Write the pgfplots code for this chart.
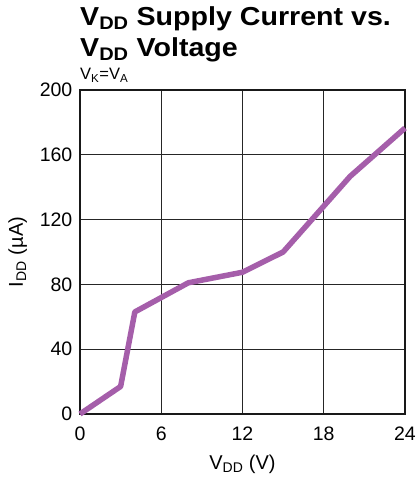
\documentclass[border=0pt]{standalone}
\usepackage{pgfplots}
\pgfplotsset{compat=1.18}
\usepackage{fontspec}
\setmainfont{Liberation Sans}
\newfontfamily\titlefont{Liberation Sans}[FakeStretch=1.1]
\definecolor{curve}{RGB}{165,94,170}
\begin{document}
\begin{tikzpicture}
\begin{axis}[
  scale only axis,
  width=325pt, height=324pt,
  xmin=0, xmax=24, ymin=0, ymax=200,
  xtick={0,6,12,18,24}, ytick={0,40,80,120,160,200},
  grid=major,
  major grid style={black!85, line width=1.4pt},
  axis line style={black!90, line width=2.8pt},
  major tick length=0pt,
  tick label style={font=\fontsize{19.5}{22}\selectfont, inner sep=0pt},
  /pgf/number format/assume math mode=true,
  xticklabel style={anchor=base, yshift=-26.7pt},
  yticklabel style={anchor=east, xshift=-7.5pt},
  clip=false,
]
\addplot[curve, line width=5.5pt, line join=round] coordinates {
(0,0) (3.0,17) (4.05,63) (8,81) (12,87.5) (15,100) (19.95,146.7) (24,176.5)
};
\coordinate (ll) at (rel axis cs:0,0);
\coordinate (ur) at (rel axis cs:1,1);
\coordinate (ml) at (rel axis cs:0,0.5);
\node[anchor=base, inner sep=0pt, font=\fontsize{20}{22}\selectfont] at (rel axis cs:0.5,0) [yshift=-55pt] {V\textsubscript{DD} (V)};
\node[anchor=base west, inner sep=0pt, font=\titlefont\bfseries\fontsize{26}{30}\selectfont] at (rel axis cs:0,1) [yshift=64pt] {V\textsubscript{DD} Supply Current vs.};
\node[anchor=base west, inner sep=0pt, font=\titlefont\bfseries\fontsize{26}{30}\selectfont] at (rel axis cs:0,1) [yshift=33pt] {V\textsubscript{DD} Voltage};
\node[anchor=base west, inner sep=0pt, font=\fontsize{16.5}{20}\selectfont] at (rel axis cs:0,1) [yshift=10pt] {V\textsubscript{K}=V\textsubscript{A}};
\end{axis}
\node[anchor=base, inner sep=0pt, rotate=90, font=\fontsize{20}{22}\selectfont] at ([xshift=-57pt]ml) {I\textsubscript{DD} (µA)};
\useasboundingbox ([xshift=-80pt,yshift=-65pt]ll) rectangle ([xshift=12pt,yshift=90pt]ur);
\end{tikzpicture}
\end{document}
